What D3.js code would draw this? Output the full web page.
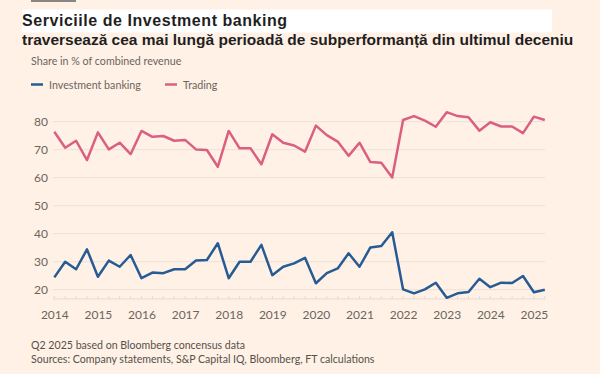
<!DOCTYPE html>
<html>
<head>
<meta charset="utf-8">
<script src="https://cdn.jsdelivr.net/npm/d3@7"></script>
<style>
  html, body { margin: 0; padding: 0; background: #fff1e5; }
  svg { display: block; }
</style>
</head>
<body>
<svg id="chart" width="600" height="374"></svg>
<script>
// ---- Data (quarterly, Q1 2014 – Q2 2025) ----
const quarters = d3.range(46); // index 0 = Q1 2014
const investmentBanking = [
  24.4, 30.0, 27.3, 34.4, 24.6, 30.4, 28.2, 32.4,
  24.1, 26.1, 25.9, 27.3, 27.3, 30.4, 30.6, 36.6,
  24.1, 30.0, 30.0, 36.0, 25.2, 28.2, 29.4, 31.4,
  22.3, 25.9, 27.6, 33.0, 28.2, 35.1, 35.6, 40.5,
  20.1, 18.7, 20.1, 22.5, 17.1, 18.7, 19.2, 23.9,
  20.9, 22.5, 22.4, 24.9, 19.1, 20.0
];
const trading = [
  76.4, 70.7, 73.2, 66.3, 76.2, 70.1, 72.5, 68.4,
  76.7, 74.6, 74.9, 73.2, 73.5, 70.1, 69.9, 63.9,
  76.7, 70.5, 70.5, 64.8, 75.5, 72.5, 71.5, 69.3,
  78.6, 75.2, 72.9, 67.8, 72.5, 65.6, 65.3, 60.1,
  80.6, 82.0, 80.4, 78.2, 83.4, 82.0, 81.6, 76.8,
  79.8, 78.3, 78.3, 75.9, 81.8, 80.6
];
const yearLabels = ["2014","2015","2016","2017","2018","2019","2020","2021","2022","2023","2024","2025"];
const yTicks = [20, 30, 40, 50, 60, 70, 80];
const seriesNames = ["Investment banking", "Trading"];
const seriesColors = ["#265b94", "#da5f80"];

const titleLines = [
  "Serviciile de Investment banking",
  "traversează cea mai lungă perioadă de subperformanță din ultimul deceniu"
];
const subtitle = "Share in % of combined revenue";
const notes = [
  "Q2 2025 based on Bloomberg concensus data",
  "Sources: Company statements, S&P Capital IQ, Bloomberg, FT calculations"
];

// ---- Layout ----
const svg = d3.select("#chart");
const sansFont = "Lato, 'Open Sans', sans-serif";

const x = d3.scaleLinear().domain([0, 45]).range([54.3, 544.8]);
const y = d3.scaleLinear().domain([20, 80]).range([289.7, 121.7]);
const yBase = y(16.7);

// FT mark bar at top
svg.append("rect").attr("x", 31).attr("y", 0).attr("width", 45).attr("height", 2).attr("fill", "#8a8580");

// Title
svg.append("rect").attr("x", 22).attr("y", 9.5).attr("width", 530).attr("height", 23).attr("fill", "#ffffff");
const titleSizes = [16, 15.5];
const titleSpacing = [0.55, 0];
svg.selectAll("text.title").data(titleLines).join("text")
  .attr("class", "title")
  .attr("x", 22)
  .attr("y", (d, i) => 26 + i * 18.5)
  .attr("font-family", "'Liberation Sans', Arial, sans-serif")
  .attr("font-weight", "bold")
  .attr("font-size", (d, i) => titleSizes[i])
  .attr("letter-spacing", (d, i) => titleSpacing[i])
  .attr("fill", "#1f1f1f")
  .text(d => d);

// Subtitle
svg.append("text").attr("x", 31).attr("y", 65)
  .attr("font-family", sansFont).attr("font-size", 10.7).attr("fill", "#6b6560")
  .text(subtitle);

// Legend
const legendX = [31, 165];
seriesNames.forEach((name, i) => {
  svg.append("line")
    .attr("x1", legendX[i]).attr("x2", legendX[i] + 12)
    .attr("y1", 84.5).attr("y2", 84.5)
    .attr("stroke", seriesColors[i]).attr("stroke-width", 2.5);
  svg.append("text")
    .attr("x", legendX[i] + 18).attr("y", 88.5)
    .attr("font-family", sansFont).attr("font-size", 10.7).attr("fill", "#6b6560")
    .text(name);
});

// Gridlines
svg.append("g").selectAll("line").data(yTicks).join("line")
  .attr("x1", 53).attr("x2", 545)
  .attr("y1", d => y(d)).attr("y2", d => y(d))
  .attr("stroke", "#ece1d7").attr("stroke-width", 1);

// Y axis labels
const yAxis = d3.axisLeft(y).tickValues(yTicks).tickSize(0).tickPadding(0).tickFormat(d3.format("d"));
const gy = svg.append("g").attr("transform", "translate(48,0)").call(yAxis);
gy.select(".domain").remove();
gy.selectAll("text").attr("font-family", sansFont).attr("font-size", 12).attr("fill", "#6b6560");

// X baseline with quarterly ticks
svg.append("line").attr("x1", 53).attr("x2", 545).attr("y1", yBase).attr("y2", yBase)
  .attr("stroke", "#e6dacf").attr("stroke-width", 1);
svg.append("g").selectAll("line").data(quarters).join("line")
  .attr("x1", d => x(d)).attr("x2", d => x(d))
  .attr("y1", yBase - 3).attr("y2", yBase)
  .attr("stroke", "#e6dacf").attr("stroke-width", 1);

// X axis labels
const xAxis = d3.axisBottom(x)
  .tickValues(yearLabels.map((d, i) => i * 4))
  .tickSize(0).tickPadding(0)
  .tickFormat((d, i) => yearLabels[i]);
const gx = svg.append("g").attr("transform", `translate(0,${yBase + 12})`).call(xAxis);
gx.select(".domain").remove();
gx.selectAll("text").attr("font-family", sansFont).attr("font-size", 12).attr("fill", "#6b6560");

// Lines
const line = d3.line().x((d, i) => x(quarters[i])).y(d => y(d)).curve(d3.curveLinear);
[investmentBanking, trading].forEach((vals, i) => {
  svg.append("path").datum(vals)
    .attr("d", line)
    .attr("fill", "none")
    .attr("stroke", seriesColors[i])
    .attr("stroke-width", 2.5)
    .attr("stroke-linejoin", "round");
});

// Notes
svg.selectAll("text.note").data(notes).join("text")
  .attr("class", "note")
  .attr("x", 31)
  .attr("y", (d, i) => 349 + i * 14)
  .attr("font-family", sansFont).attr("font-size", 10.6).attr("fill", "#55504b")
  .text(d => d);
</script>
</body>
</html>
